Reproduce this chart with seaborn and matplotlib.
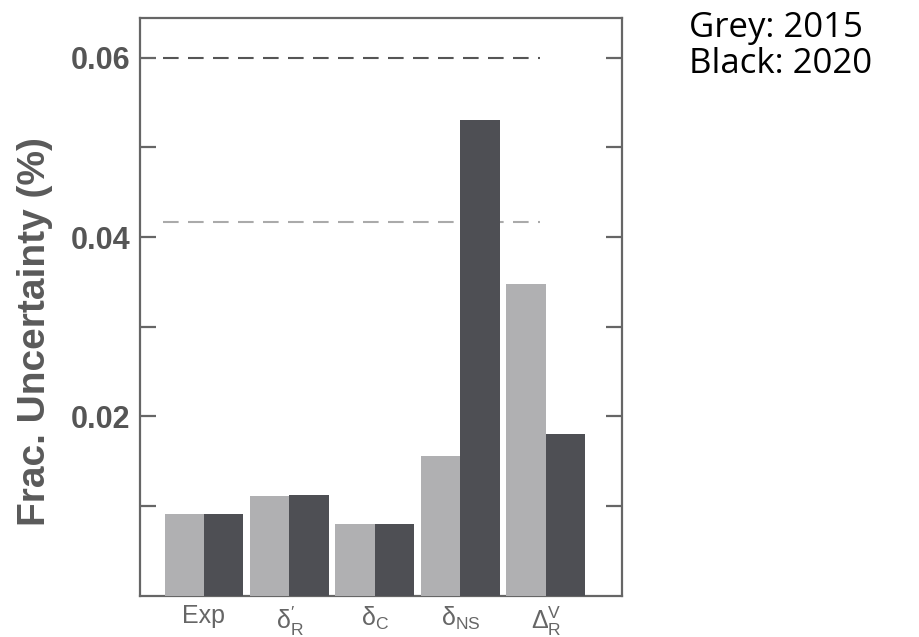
import numpy as np
import pandas as pd
import matplotlib
matplotlib.use("Agg")
import matplotlib.pyplot as plt
from matplotlib.ticker import FixedLocator, FormatStrFormatter
import seaborn as sns

# data
categories = ["Exp", r"$\mathregular{\delta^{\prime}_{R}}$", r"$\mathregular{\delta_{C}}$",
              r"$\mathregular{\delta_{NS}}$", r"$\mathregular{\Delta^{V}_{R}}$"]
vals_2015 = [0.0091, 0.0111, 0.0080, 0.0156, 0.0348]
vals_2020 = [0.0091, 0.0112, 0.0080, 0.0530, 0.0180]
years = ["2015", "2020"]
goal_2020 = 0.06
goal_2015 = 0.0417

sns.set_theme(style="white")
plt.rcParams["font.family"] = ["Liberation Sans", "DejaVu Sans"]

df = pd.DataFrame({
    "cat": categories * 2,
    "val": vals_2015 + vals_2020,
    "year": [years[0]] * 5 + [years[1]] * 5,
})

fig = plt.figure(figsize=(9.19, 6.37), dpi=100)
ax = fig.add_axes([0.1523, 0.0644, 0.5245, 0.9073])

pal = {"2015": "#b0b0b2", "2020": "#4e4f54"}
sns.barplot(data=df, x="cat", y="val", hue="year", palette=pal, width=0.924,
            saturation=1, legend=False, linewidth=0, ax=ax, zorder=3)

# reference lines
ax.hlines(goal_2020, -0.48, 3.93, colors="#555555", linestyles=(0, (7.5, 4.5)),
          linewidth=1.5, zorder=1)
ax.hlines(goal_2015, -0.48, 3.93, colors="#aaaaaa", linestyles=(0, (7.5, 4.5)),
          linewidth=1.5, zorder=1)

ax.set_xlim(-0.749, 4.889)
ax.set_ylim(0, 0.0644)
ax.yaxis.set_major_locator(FixedLocator([0.02, 0.04, 0.06]))
ax.yaxis.set_minor_locator(FixedLocator([0.01, 0.03, 0.05]))
ax.yaxis.set_major_formatter(FormatStrFormatter("%.2f"))

for s in ax.spines.values():
    s.set_color("#666666")
    s.set_linewidth(1.6)

ax.tick_params(axis="y", which="both", direction="in", left=True, right=True,
               length=11.5, width=1.6, color="#666666", pad=7,
               labelsize=22, labelcolor="#555555")
for t in ax.get_yticklabels():
    t.set_fontweight("bold")
ax.tick_params(axis="x", bottom=False, labelsize=18, labelcolor="#666666", pad=0)

ax.set_xlabel("")
ax.set_ylabel("Frac. Uncertainty (%)", fontsize=28, fontweight="bold",
              color="#5a5a5a")
ax.yaxis.set_label_coords(-0.18, 0.458)

fig.text(0.75, 1 - 37 / 637, "Grey: 2015", fontsize=25, family=["Open Sans", "DejaVu Sans"],
         color="black", va="baseline")
fig.text(0.75, 1 - 73 / 637, "Black: 2020", fontsize=25, family=["Open Sans", "DejaVu Sans"],
         color="black", va="baseline")

fig.savefig("out.png", dpi=100)
